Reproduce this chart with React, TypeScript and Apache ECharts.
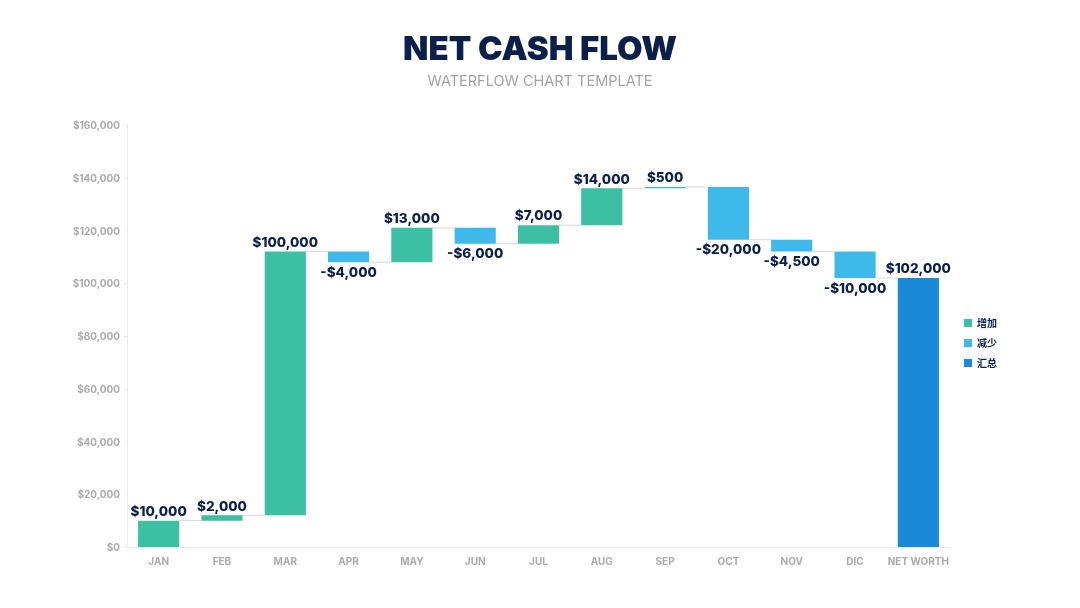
import React, { useEffect, useRef } from "react";
import * as echarts from "echarts";

// Monthly cash movements; the final column is the resulting net worth
const categories = ["JAN", "FEB", "MAR", "APR", "MAY", "JUN", "JUL", "AUG", "SEP", "OCT", "NOV", "DIC", "NET WORTH"];
const changes = [10000, 2000, 100000, -4000, 13000, -6000, 7000, 14000, 500, -20000, -4500, -10000];
const netWorth = 102000;
const yTicks = { min: 0, max: 160000, interval: 20000 };
const seriesNames = ["增加", "减少", "汇总"];

const COLORS = { up: "#3dbfa3", down: "#3fb8ea", total: "#1a8ad8" };
const NAVY = "#0b1f4b";
const GRAY = "#ababab";
const FONT = "Inter, 'Noto Sans CJK SC', sans-serif";

const money = (v: number) => (v < 0 ? "-$" : "$") + Math.abs(v).toLocaleString("en-US");

export default function App() {
  const ref = useRef<HTMLDivElement>(null);

  useEffect(() => {
    if (!ref.current) return;
    const chart = echarts.init(ref.current, undefined, { renderer: "svg" });

    // Waterfall stacks: invisible base + visible delta
    const base: (number | string)[] = [];
    const up: (number | string)[] = [];
    const down: (number | string)[] = [];
    const total: (number | string)[] = [];
    const levels: number[] = [];
    let running = 0;
    changes.forEach((c) => {
      const next = running + c;
      base.push(Math.min(running, next));
      up.push(c >= 0 ? c : "-");
      down.push(c < 0 ? -c : "-");
      total.push("-");
      running = next;
      levels.push(running);
    });
    base.push(0);
    up.push("-");
    down.push("-");
    total.push(netWorth);

    const labelStyle = {
      show: true,
      color: NAVY,
      fontFamily: FONT,
      fontWeight: 800,
      fontSize: 13.5,
    };

    chart.setOption({
      animation: false,
      title: [
        {
          text: "NET CASH FLOW",
          left: "center",
          top: 26,
          textStyle: { color: NAVY, fontFamily: FONT, fontWeight: 900, fontSize: 33 },
        },
        {
          text: "WATERFLOW CHART TEMPLATE",
          left: "center",
          top: 68,
          textStyle: { color: "#a3a3a3", fontFamily: FONT, fontWeight: 400, fontSize: 14.5 },
        },
      ],
      legend: {
        orient: "vertical",
        left: 959,
        top: 313,
        itemWidth: 8,
        itemHeight: 8,
        itemGap: 10,
        icon: "rect",
        data: seriesNames,
        textStyle: { color: NAVY, fontFamily: FONT, fontWeight: 700, fontSize: 10 },
      },
      grid: { left: 127, right: 130, top: 125, bottom: 61 },
      xAxis: {
        type: "category",
        data: categories,
        axisLine: { lineStyle: { color: "#ececec" } },
        axisTick: { lineStyle: { color: "#ececec" } },
        axisLabel: { interval: 0, color: GRAY, fontFamily: FONT, fontWeight: 700, fontSize: 10, margin: 9 },
      },
      yAxis: {
        type: "value",
        min: yTicks.min,
        max: yTicks.max,
        interval: yTicks.interval,
        axisLine: { show: true, lineStyle: { color: "#ececec" } },
        axisTick: { show: true, length: 3, lineStyle: { color: "#ececec" } },
        splitLine: { show: false },
        axisLabel: {
          color: GRAY,
          fontFamily: FONT,
          fontWeight: 700,
          fontSize: 10,
          margin: 7,
          formatter: (v: number) => money(v),
        },
      },
      series: [
        {
          name: "base",
          type: "bar",
          stack: "w",
          barWidth: "65%",
          itemStyle: { color: "transparent" },
          emphasis: { disabled: true },
          data: base,
        },
        {
          name: seriesNames[0],
          type: "bar",
          stack: "w",
          itemStyle: { color: COLORS.up },
          label: { ...labelStyle, position: "top", distance: 3, formatter: (p: any) => money(p.value) },
          data: up,
        },
        {
          name: seriesNames[1],
          type: "bar",
          stack: "w",
          itemStyle: { color: COLORS.down },
          label: { ...labelStyle, position: "bottom", distance: 3, formatter: (p: any) => money(-p.value) },
          data: down,
        },
        {
          name: seriesNames[2],
          type: "bar",
          stack: "w",
          itemStyle: { color: COLORS.total },
          label: { ...labelStyle, position: "top", distance: 3, formatter: (p: any) => money(p.value) },
          data: total,
        },
        {
          name: "connector",
          type: "custom",
          silent: true,
          z: 1,
          data: levels.map((v, i) => [i, v]),
          renderItem: (params: any, api: any) => {
            const i = api.value(0);
            const v = api.value(1);
            const half = (api.size([1, 0])[0] * 0.65) / 2;
            const a = api.coord([i, v]);
            const b = api.coord([i + 1, v]);
            return {
              type: "line",
              shape: { x1: a[0] + half, y1: a[1], x2: b[0] - half, y2: b[1] },
              style: { stroke: "#d6d6d6", lineWidth: 1 },
            };
          },
        },
      ],
    });

    return () => chart.dispose();
  }, []);

  return <div ref={ref} style={{ position: "fixed", left: 0, top: 0, width: 1080, height: 608 }} />;
}
